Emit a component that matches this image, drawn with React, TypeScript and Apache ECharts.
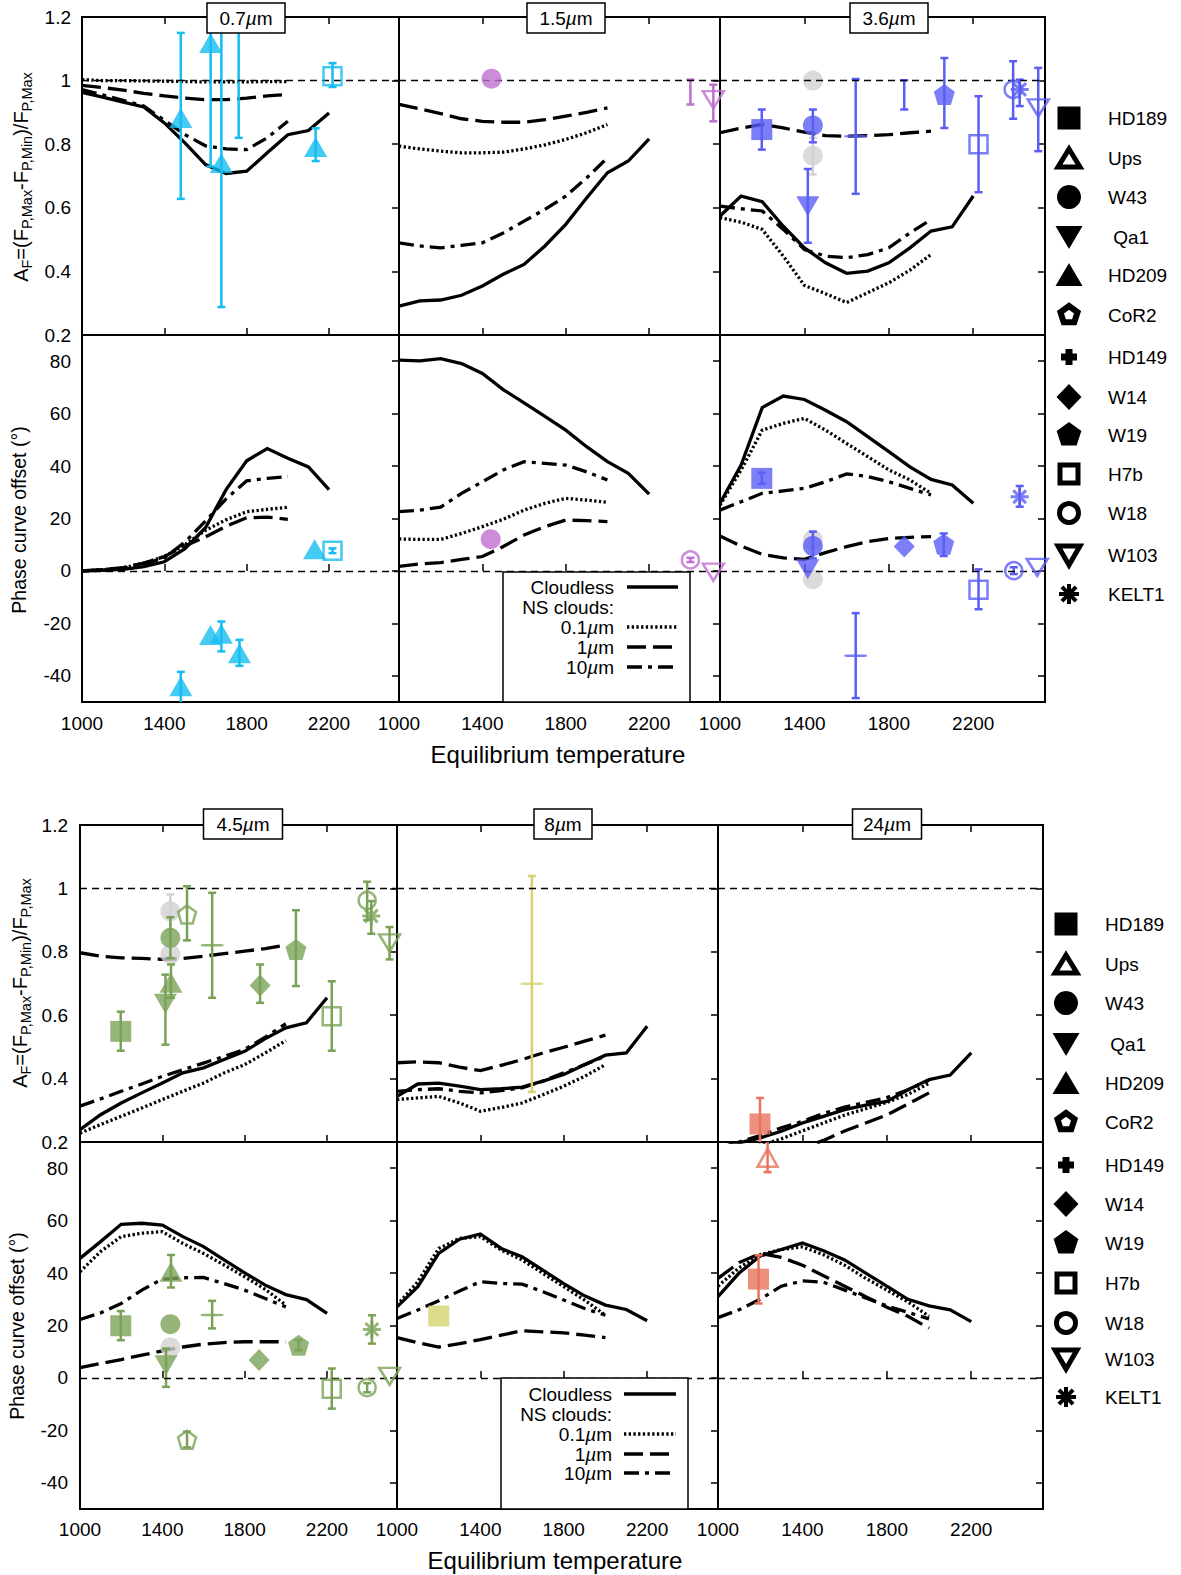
import React, { useEffect, useRef } from "react";
import * as echarts from "echarts";

const FONT = '"Liberation Sans", Arial, Helvetica, sans-serif';

// ---------- model temperature grids (K) ----------
const TEMP_CLOUDLESS = [1000, 1100, 1200, 1300, 1400, 1500, 1600, 1700, 1800, 1900, 2000, 2100, 2200];
const TEMP_CLOUDY = [1000, 1100, 1200, 1300, 1400, 1500, 1600, 1700, 1800, 1900, 2000];

// ---------- tick labels ----------
const TEMP_TICKS = [1000, 1400, 1800, 2200];
const TEMP_INNER_TICKS = [1400, 1800, 2200];
const AMP_TICKS = [0.2, 0.4, 0.6, 0.8, 1, 1.2];
const AMP_INNER_TICKS = [0.4, 0.6, 0.8, 1];
const OFF_TICKS = [-40, -20, 0, 20, 40, 60, 80];

// ---------- models: amplitude ----------
const amp07Cloudless = [0.963, 0.948, 0.932, 0.917, 0.867, 0.804, 0.736, 0.708, 0.715, 0.773, 0.83, 0.843, 0.898];
const amp07Cloud01 = [1.003, 1.0, 1.0, 0.999, 0.998, 0.997, 0.996, 0.996, 0.996, 0.997, 0.997];
const amp07Cloud1 = [0.985, 0.978, 0.97, 0.96, 0.952, 0.945, 0.94, 0.94, 0.945, 0.952, 0.956];
const amp07Cloud10 = [0.972, 0.955, 0.938, 0.92, 0.875, 0.83, 0.795, 0.785, 0.783, 0.82, 0.872];

const amp15Cloudless = [0.291, 0.307, 0.31, 0.325, 0.354, 0.391, 0.422, 0.48, 0.548, 0.631, 0.71, 0.747, 0.817];
const amp15Cloud01 = [0.794, 0.785, 0.778, 0.773, 0.773, 0.775, 0.785, 0.798, 0.815, 0.836, 0.862];
const amp15Cloud1 = [0.925, 0.911, 0.896, 0.88, 0.872, 0.869, 0.869, 0.877, 0.888, 0.9, 0.914];
const amp15Cloud10 = [0.49, 0.48, 0.474, 0.482, 0.49, 0.521, 0.558, 0.595, 0.637, 0.694, 0.757];

const amp36Cloudless = [0.574, 0.637, 0.619, 0.542, 0.474, 0.427, 0.394, 0.401, 0.427, 0.474, 0.527, 0.54, 0.637];
const amp36Cloud01 = [0.569, 0.555, 0.532, 0.448, 0.356, 0.33, 0.302, 0.333, 0.364, 0.404, 0.453];
const amp36Cloud1 = [0.836, 0.851, 0.862, 0.851, 0.838, 0.827, 0.825, 0.827, 0.83, 0.836, 0.841];
const amp36Cloud10 = [0.605, 0.597, 0.59, 0.532, 0.469, 0.448, 0.443, 0.453, 0.474, 0.521, 0.563];

const amp45Cloudless = [0.239, 0.286, 0.323, 0.355, 0.386, 0.418, 0.434, 0.46, 0.486, 0.526, 0.56, 0.576, 0.655];
const amp45Cloud01 = [0.228, 0.255, 0.281, 0.307, 0.334, 0.36, 0.386, 0.418, 0.444, 0.481, 0.52];
const amp45Cloud1 = [0.797, 0.786, 0.781, 0.779, 0.776, 0.779, 0.786, 0.794, 0.802, 0.81, 0.821];
const amp45Cloud10 = [0.313, 0.336, 0.36, 0.383, 0.407, 0.428, 0.449, 0.47, 0.492, 0.531, 0.573];

const amp8Cloudless = [0.344, 0.383, 0.386, 0.376, 0.365, 0.368, 0.373, 0.392, 0.413, 0.444, 0.474, 0.481, 0.565];
const amp8Cloud01 = [0.334, 0.339, 0.344, 0.323, 0.297, 0.309, 0.323, 0.349, 0.376, 0.407, 0.444];
const amp8Cloud1 = [0.45, 0.453, 0.45, 0.436, 0.425, 0.442, 0.46, 0.481, 0.499, 0.518, 0.537];
const amp8Cloud10 = [0.36, 0.365, 0.368, 0.36, 0.355, 0.362, 0.371, 0.392, 0.418, 0.444, 0.471];

const amp24Cloudless = [0.181, 0.197, 0.213, 0.234, 0.26, 0.281, 0.302, 0.316, 0.328, 0.365, 0.397, 0.411, 0.481];
const amp24Cloud01 = [0.15, 0.17, 0.19, 0.21, 0.235, 0.26, 0.285, 0.305, 0.325, 0.35, 0.385];
const amp24Cloud1 = [0.1, 0.12, 0.13, 0.15, 0.18, 0.205, 0.235, 0.26, 0.285, 0.32, 0.355];
const amp24Cloud10 = [0.18, 0.2, 0.22, 0.245, 0.265, 0.29, 0.31, 0.325, 0.34, 0.365, 0.395];

// ---------- models: phase offset (deg) ----------
const off07Cloudless = [0, 0.2, 0.6, 1.6, 3.5, 8.5, 16.5, 31, 42, 46.7, 43, 39.7, 31];
const off07Cloud01 = [0, 0.5, 1.2, 3, 5.5, 10, 15.5, 19.5, 22.6, 23.5, 24.3];
const off07Cloud1 = [0, 0.5, 1.3, 3, 5.5, 9.5, 13, 17, 20.3, 20.5, 19.7];
const off07Cloud10 = [0, 0.3, 1, 2.5, 5, 11, 19, 27.5, 34.4, 35.3, 36];

const off15Cloudless = [80.4, 80.1, 81, 79.1, 75.3, 69.2, 64.1, 59, 53.7, 47.4, 41.7, 37.2, 29.3];
const off15Cloud01 = [12.2, 12, 12, 14.3, 16.9, 19.7, 23.2, 25.8, 27.7, 27, 26.2];
const off15Cloud1 = [1.7, 2.7, 3.2, 4.4, 5.5, 9.3, 13.7, 16.9, 19.4, 19.2, 18.8];
const off15Cloud10 = [22.6, 23.2, 24.3, 29.6, 34, 38.5, 41.7, 41, 40.4, 37.8, 34.7];

const off36Cloudless = [25.8, 40.4, 62.3, 66.7, 65.4, 61.3, 56.9, 51.2, 45.5, 39.7, 34.9, 32.8, 25.8];
const off36Cloud01 = [25.1, 38.5, 53.7, 56.3, 58.2, 53.7, 48.6, 43.6, 38.5, 34.7, 29.6];
const off36Cloud1 = [13.3, 9.5, 6.3, 5, 4.4, 7, 9.3, 11.2, 12.4, 12.8, 13.1];
const off36Cloud10 = [23.2, 26.4, 29.6, 30.5, 31.5, 34, 37, 36, 34, 31.5, 29];

const off45Cloudless = [45.6, 52, 58.6, 59, 58.3, 53.9, 50.1, 45, 40.1, 35.4, 31.8, 29.9, 24.6];
const off45Cloud01 = [40.5, 48.2, 53.9, 55.2, 55.8, 51.3, 47.5, 43.1, 38.6, 33.8, 27.8];
const off45Cloud1 = [3.9, 5.5, 7, 8.7, 10.3, 11.8, 12.9, 13.5, 13.8, 13.8, 13.8];
const off45Cloud10 = [22.3, 24.8, 28.4, 33.5, 37.7, 38.2, 38.3, 36, 33.5, 30.3, 27.1];

const off8Cloudless = [27.1, 34.8, 47.5, 52.9, 54.9, 49.4, 46.2, 41.1, 36, 31.3, 27.8, 26.1, 21.8];
const off8Cloud01 = [27.8, 36.7, 49.4, 53.2, 53.9, 48.8, 45, 39.9, 34.8, 29.7, 23.9];
const off8Cloud1 = [15.4, 13.4, 11.8, 13.1, 14.6, 16.3, 18, 17.6, 17.2, 16.3, 15.4];
const off8Cloud10 = [22.7, 25.9, 29.4, 33.2, 36.7, 36, 35.8, 32.9, 29.7, 26.5, 23.9];

const off24Cloudless = [31, 40, 46.5, 49, 51.5, 48.5, 45, 40, 35, 30, 27.5, 26, 21.5];
const off24Cloud01 = [35, 42, 47, 49, 50, 47, 43, 38, 33.5, 29, 23.5];
const off24Cloud1 = [38, 44, 47.5, 46, 43, 39, 35, 31, 27, 23.5, 19];
const off24Cloud10 = [23, 26, 30, 35, 37, 36.5, 33.5, 30.5, 27.5, 25, 22.5];

// ---------- observations: [planet, Teq, value, errLow, errHigh] ----------
type Obs = [string, number, number | null, number | null, number | null];
type Gray = [number, number, number | null, number | null];

const OBS_AMP_07: Obs[] = [
  ["HD209", 1480, 0.882, 0.628, 1.15],
  ["HD209", 1625, 1.118, 0.73, 1.25],
  ["HD209", 1677, 0.741, 0.288, 1.25],
  ["none", 1761, null, 0.82, 1.25],
  ["HD209", 2135, 0.791, 0.747, 0.85],
  ["H7b", 2217, 1.014, 0.98, 1.055],
];
const OBS_OFF_07: Obs[] = [
  ["HD209", 1480, -44, -55, -38.5],
  ["HD209", 1624, -24.4, null, null],
  ["HD209", 1677, -24, -30.7, -19.3],
  ["HD209", 1765, -31.4, -36.2, -26.3],
  ["HD209", 2130, 8.3, null, null],
  ["H7b", 2217, 7.7, 6.8, 8.6],
];
const OBS_AMP_15: Obs[] = [
  ["W43", 1444, 1.006, null, null],
  ["none", 2398, null, 0.925, 1.003],
  ["W103", 2508, 0.94, 0.872, 0.987],
];
const OBS_OFF_15: Obs[] = [
  ["W43", 1440, 12.1, null, null],
  ["W18", 2398, 4.2, 3.4, 5.0],
  ["W103", 2508, -0.5, null, null],
];
const OBS_AMP_36: Obs[] = [
  ["HD189", 1198, 0.846, 0.783, 0.909],
  ["W43", 1440, 0.859, 0.806, 0.909],
  ["Qa1", 1416, 0.605, 0.49, 0.722],
  ["HD149", 1643, 0.825, 0.644, 1.005],
  ["none", 1873, null, 0.909, 1.001],
  ["W19", 2063, 0.956, 0.851, 1.071],
  ["H7b", 2225, 0.8, 0.649, 0.951],
  ["W18", 2389, 0.972, 0.88, 1.061],
  ["KELT1", 2420, 0.972, 0.92, 1.003],
  ["W103", 2508, 0.914, 0.778, 1.04],
];
const GRAY_AMP_36: Gray[] = [
  [1440, 1.0, null, null],
  [1440, 0.764, 0.705, 0.82],
];
const OBS_OFF_36: Obs[] = [
  ["HD189", 1198, 35.3, 33.3, 37.5],
  ["W43", 1440, 9.5, 4.8, 15],
  ["Qa1", 1416, 0.6, null, null],
  ["HD149", 1643, -32.4, -48.5, -16.1],
  ["W14", 1873, 9.3, null, null],
  ["W19", 2060, 10.2, 5.7, 14.3],
  ["H7b", 2225, -7.2, -14.6, 0.6],
  ["W18", 2392, 0.1, -1.2, 1.4],
  ["W103", 2503, 1.4, null, null],
  ["KELT1", 2420, 28.3, 24.5, 32.4],
];
const GRAY_OFF_36: Gray[] = [
  [1440, 11.8, null, null],
  [1440, -3.2, null, null],
];
const OBS_AMP_45: Obs[] = [
  ["HD189", 1198, 0.549, 0.488, 0.611],
  ["W43", 1439, 0.844, 0.78, 0.909],
  ["HD209", 1442, 0.702, 0.655, 0.76],
  ["Qa1", 1415, 0.636, 0.507, 0.728],
  ["CoR2", 1520, 0.918, 0.836, 1.007],
  ["HD149", 1642, 0.821, 0.655, 0.986],
  ["W14", 1875, 0.694, 0.639, 0.76],
  ["W19", 2049, 0.807, 0.692, 0.931],
  ["H7b", 2223, 0.597, 0.488, 0.707],
  ["W18", 2395, 0.962, 0.9, 1.021],
  ["KELT1", 2415, 0.913, 0.857, 0.96],
  ["W103", 2504, 0.828, 0.776, 0.878],
];
const GRAY_AMP_45: Gray[] = [
  [1439, 0.928, 0.87, 0.981],
  [1439, 0.792, null, null],
];
const OBS_OFF_45: Obs[] = [
  ["HD189", 1198, 19.9, 14.4, 25.5],
  ["W43", 1439, 20.5, null, null],
  ["HD209", 1442, 40.5, 34.5, 46.9],
  ["Qa1", 1418, 4.8, -3.4, 11.2],
  ["CoR2", 1520, -23.6, -26.5, -20.5],
  ["HD149", 1642, 24, 18.9, 29.4],
  ["W14", 1870, 6.8, null, null],
  ["W19", 2062, 12.5, 10.5, 14.5],
  ["H7b", 2223, -4.1, -11.7, 3.6],
  ["W18", 2395, -3.7, -5.5, -2],
  ["KELT1", 2418, 18.5, 13.1, 23.9],
  ["W103", 2504, 0.6, null, null],
];
const GRAY_OFF_45: Gray[] = [[1439, 11.6, null, null]];
const OBS_AMP_8: Obs[] = [["HD149", 1647, 0.699, 0.358, 1.039]];
const OBS_OFF_8: Obs[] = [["HD189", 1200, 23.6, null, null]];
const OBS_AMP_24: Obs[] = [["HD189", 1199, 0.257, 0.15, 0.339]];
const OBS_OFF_24: Obs[] = [
  ["HD189", 1192, 37.7, 28.4, 46.8],
  ["Ups", 1235, 84, 78.5, 95],
];

// ---------- legend names ----------
const PLANETS = ["HD189", "Ups", "W43", "Qa1", "HD209", "CoR2", "HD149", "W14", "W19", "H7b", "W18", "W103", "KELT1"];
const PLANET_LABELS = ["HD189", "Ups", "W43", " Qa1", "HD209", "CoR2", "HD149", "W14", "W19", "H7b", "W18", "W103", "KELT1"];
const WAVELENGTHS = ["0.7", "1.5", "3.6", "4.5", "8", "24"];
const PANEL_COLORS = ["#16BDF1", "#BF6FCF", "#5A5EF4", "#7AA257", "#D5D36E", "#E8735C"];
const GRAY = "#D2D2D2";

const AMP_MODELS = [
  [amp07Cloudless, amp07Cloud01, amp07Cloud1, amp07Cloud10],
  [amp15Cloudless, amp15Cloud01, amp15Cloud1, amp15Cloud10],
  [amp36Cloudless, amp36Cloud01, amp36Cloud1, amp36Cloud10],
  [amp45Cloudless, amp45Cloud01, amp45Cloud1, amp45Cloud10],
  [amp8Cloudless, amp8Cloud01, amp8Cloud1, amp8Cloud10],
  [amp24Cloudless, amp24Cloud01, amp24Cloud1, amp24Cloud10],
];
const OFF_MODELS = [
  [off07Cloudless, off07Cloud01, off07Cloud1, off07Cloud10],
  [off15Cloudless, off15Cloud01, off15Cloud1, off15Cloud10],
  [off36Cloudless, off36Cloud01, off36Cloud1, off36Cloud10],
  [off45Cloudless, off45Cloud01, off45Cloud1, off45Cloud10],
  [off8Cloudless, off8Cloud01, off8Cloud1, off8Cloud10],
  [off24Cloudless, off24Cloud01, off24Cloud1, off24Cloud10],
];
const AMP_OBS = [OBS_AMP_07, OBS_AMP_15, OBS_AMP_36, OBS_AMP_45, OBS_AMP_8, OBS_AMP_24];
const OFF_OBS = [OBS_OFF_07, OBS_OFF_15, OBS_OFF_36, OBS_OFF_45, OBS_OFF_8, OBS_OFF_24];
const AMP_GRAY: Gray[][] = [[], [], GRAY_AMP_36, GRAY_AMP_45, [], []];
const OFF_GRAY: Gray[][] = [[], [], GRAY_OFF_36, GRAY_OFF_45, [], []];

// ---------- layout ----------
const LAYOUT = [
  {
    rowTop: [17, 335], rowH: [318, 367], colLeft: [82, 399, 720], colW: [317, 321, 325],
    xLabelMargin: 12, yLabelMargin: 11, tagCenterX: [246, 566, 889], tagTop: 3,
    xTitle: [558, 754], ampTitle: [21, 177], offTitle: [19, 520],
    legendSymX: 1069, legendTextX: 1108,
    legendY: [118, 158, 197, 237, 275, 315, 357, 397, 435, 474, 513, 555, 594],
    keyBox: [503, 572, 187, 130], keyTextX: 614, keyRowY: [587, 607, 627, 647, 667], keySample: [627, 678],
  },
  {
    rowTop: [825, 1142], rowH: [317, 367], colLeft: [80, 397, 718], colW: [317, 321, 325],
    xLabelMargin: 11, yLabelMargin: 12, tagCenterX: [243, 563, 887], tagTop: 809,
    xTitle: [555, 1560], ampTitle: [20, 983], offTitle: [17, 1326],
    legendSymX: 1066, legendTextX: 1105,
    legendY: [924, 964, 1003, 1044, 1083, 1122, 1165, 1204, 1243, 1283, 1323, 1359, 1397],
    keyBox: [501, 1378, 187, 131], keyTextX: 612, keyRowY: [1394, 1414, 1434, 1454, 1473], keySample: [624, 676],
  },
];
const TAG_WIDTHS = [78, 78, 78, 79, 58, 69];

const MODEL_DASH: any[] = ["solid", [2.3, 2.4], [19, 7], [15, 6, 4, 6]];

const PENTAGON = "path://M50,0 L97.55,34.55 L79.39,95.45 L20.61,95.45 L2.45,34.55 Z";
const PLUS = "path://M0,50 L100,50 M50,0 L50,100";
const ASTERISK = "path://M50,0 L50,100 M0,50 L100,50 M14.6,14.6 L85.4,85.4 M85.4,14.6 L14.6,85.4";

function markerStyle(planet: string, color: string): any {
  const filled = { color, borderWidth: 0 };
  const open = { color: "rgba(255,255,255,0)", borderColor: color, borderWidth: 2.5 };
  switch (planet) {
    case "HD189": return { symbol: "rect", symbolSize: 21, itemStyle: filled };
    case "Ups": return { symbol: "triangle", symbolSize: [20, 18], itemStyle: open };
    case "W43": return { symbol: "circle", symbolSize: 20, itemStyle: filled };
    case "Qa1": return { symbol: "triangle", symbolSize: [23, 20], symbolRotate: 180, itemStyle: filled };
    case "HD209": return { symbol: "triangle", symbolSize: [23, 20], itemStyle: filled };
    case "CoR2": return { symbol: PENTAGON, symbolSize: [18, 18], itemStyle: open };
    case "HD149": return { symbol: PLUS, symbolSize: [18, 2], itemStyle: { ...open, borderWidth: 2.5 } };
    case "W14": return { symbol: "diamond", symbolSize: [21, 22], itemStyle: filled };
    case "W19": return { symbol: PENTAGON, symbolSize: [21, 21], itemStyle: filled };
    case "H7b": return { symbol: "rect", symbolSize: 18, itemStyle: open };
    case "W18": return { symbol: "circle", symbolSize: 17, itemStyle: open };
    case "W103": return { symbol: "triangle", symbolSize: [21, 17], symbolRotate: 180, itemStyle: open };
    case "KELT1": return { symbol: ASTERISK, symbolSize: 18, itemStyle: { ...open, borderWidth: 3 } };
    default: return { symbol: "none" };
  }
}

function pentagonPts(cx: number, cy: number, r: number) {
  return [0, 1, 2, 3, 4].map((k) => {
    const a = -Math.PI / 2 + (k * 2 * Math.PI) / 5;
    return [cx + r * Math.cos(a), cy + r * Math.sin(a)];
  });
}

function legendShape(name: string, cx: number, cy: number): any[] {
  const K = "#000";
  const openStyle = { fill: "#fff", stroke: K, lineWidth: 5 };
  const z = 100;
  switch (name) {
    case "HD189":
      return [{ type: "rect", z, shape: { x: cx - 11.5, y: cy - 11.5, width: 23, height: 23 }, style: { fill: K } }];
    case "Ups":
      return [{ type: "polygon", z, shape: { points: [[cx, cy - 9], [cx + 11, cy + 9], [cx - 11, cy + 9]] }, style: { ...openStyle, lineJoin: "miter" } }];
    case "W43":
      return [{ type: "circle", z, shape: { cx, cy, r: 12 }, style: { fill: K } }];
    case "Qa1":
      return [{ type: "polygon", z, shape: { points: [[cx - 13.5, cy - 11], [cx + 13.5, cy - 11], [cx, cy + 12]] }, style: { fill: K } }];
    case "HD209":
      return [{ type: "polygon", z, shape: { points: [[cx, cy - 12], [cx + 13.5, cy + 11], [cx - 13.5, cy + 11]] }, style: { fill: K } }];
    case "CoR2":
      return [{ type: "polygon", z, shape: { points: pentagonPts(cx, cy, 9) }, style: { ...openStyle, lineWidth: 6 } }];
    case "HD149":
      return [
        { type: "rect", z, shape: { x: cx - 8, y: cy - 3.5, width: 16, height: 7 }, style: { fill: K } },
        { type: "rect", z, shape: { x: cx - 3.5, y: cy - 8, width: 7, height: 16 }, style: { fill: K } },
      ];
    case "W14":
      return [{ type: "polygon", z, shape: { points: [[cx, cy - 13], [cx + 12.5, cy], [cx, cy + 13], [cx - 12.5, cy]] }, style: { fill: K } }];
    case "W19":
      return [{ type: "polygon", z, shape: { points: pentagonPts(cx, cy, 13) }, style: { fill: K } }];
    case "H7b":
      return [{ type: "rect", z, shape: { x: cx - 9, y: cy - 9, width: 18, height: 18 }, style: openStyle }];
    case "W18":
      return [{ type: "circle", z, shape: { cx, cy, r: 9.5 }, style: openStyle }];
    case "W103":
      return [{ type: "polygon", z, shape: { points: [[cx - 11, cy - 9], [cx + 11, cy - 9], [cx, cy + 10]] }, style: { ...openStyle, lineJoin: "miter" } }];
    case "KELT1": {
      const r = 10;
      const d = r * 0.7071;
      const ls = { stroke: K, lineWidth: 4 };
      return [
        { type: "line", z, shape: { x1: cx - r, y1: cy, x2: cx + r, y2: cy }, style: ls },
        { type: "line", z, shape: { x1: cx, y1: cy - r, x2: cx, y2: cy + r }, style: ls },
        { type: "line", z, shape: { x1: cx - d, y1: cy - d, x2: cx + d, y2: cy + d }, style: ls },
        { type: "line", z, shape: { x1: cx + d, y1: cy - d, x2: cx - d, y2: cy + d }, style: ls },
      ];
    }
    default:
      return [];
  }
}

function errorBarSeries(data: number[][], color: string, xi: number, yi: number, z: number): any {
  return {
    type: "custom",
    xAxisIndex: xi,
    yAxisIndex: yi,
    clip: true,
    silent: true,
    z,
    data,
    encode: { x: 0, y: [1, 2] },
    renderItem: (params: any, api: any) => {
      const x = api.value(0);
      const lo = api.coord([x, api.value(1)]);
      const hi = api.coord([x, api.value(2)]);
      const cap = 4;
      const st = { stroke: color, lineWidth: 2.5 };
      return {
        type: "group",
        children: [
          { type: "line", shape: { x1: lo[0], y1: lo[1], x2: hi[0], y2: hi[1] }, style: st },
          { type: "line", shape: { x1: lo[0] - cap, y1: lo[1], x2: lo[0] + cap, y2: lo[1] }, style: st },
          { type: "line", shape: { x1: hi[0] - cap, y1: hi[1], x2: hi[0] + cap, y2: hi[1] }, style: st },
        ],
      };
    },
  };
}

const TICK_LINE = { color: "#000", width: 1.5 };
const MU_RICH = {
  n: { fontSize: 19, fontFamily: FONT, fill: "#000" },
  i: { fontSize: 19, fontFamily: FONT, fontStyle: "italic", fill: "#000" },
};

function buildOption() {
  const grid: any[] = [];
  const xAxis: any[] = [];
  const yAxis: any[] = [];
  const series: any[] = [];
  const graphic: any[] = [];

  for (let p = 0; p < 6; p++) {
    const b = Math.floor(p / 3);
    const c = p % 3;
    const L = LAYOUT[b];
    const color = PANEL_COLORS[p];
    for (let r = 0; r < 2; r++) {
      const isAmp = r === 0;
      const g = grid.length;
      grid.push({
        left: L.colLeft[c], top: L.rowTop[r], width: L.colW[c], height: L.rowH[r],
        show: true, borderColor: "#000", borderWidth: 2, backgroundColor: "transparent",
      });
      const xi = xAxis.length;
      xAxis.push({
        type: "value", gridIndex: g, position: "bottom", min: 1000, max: 2540,
        axisLine: { show: false }, splitLine: { show: false },
        axisTick: { show: true, inside: true, length: 7, customValues: TEMP_INNER_TICKS, lineStyle: TICK_LINE },
        axisLabel: {
          show: !isAmp, customValues: TEMP_TICKS, margin: L.xLabelMargin, fontSize: 19,
          color: "#000", fontFamily: FONT, formatter: (v: number) => String(v),
        },
      });
      if (isAmp) {
        xAxis.push({
          type: "value", gridIndex: g, position: "top", min: 1000, max: 2540,
          axisLine: { show: false }, splitLine: { show: false }, axisLabel: { show: false },
          axisTick: { show: true, inside: true, length: 7, customValues: TEMP_INNER_TICKS, lineStyle: TICK_LINE },
        });
      }
      const yi = yAxis.length;
      yAxis.push({
        type: "value", gridIndex: g, position: "left",
        min: isAmp ? 0.2 : -50, max: isAmp ? 1.2 : 90,
        axisLine: { show: false }, splitLine: { show: false }, axisTick: { show: false },
        axisLabel: {
          show: c === 0, customValues: isAmp ? AMP_TICKS : OFF_TICKS, margin: L.yLabelMargin,
          fontSize: 19, color: "#000", fontFamily: FONT, showMinLabel: true, showMaxLabel: true,
          formatter: (v: number) => String(Math.round(v * 10) / 10),
        },
      });
      yAxis.push({
        type: "value", gridIndex: g, position: "right",
        min: isAmp ? 0.2 : -50, max: isAmp ? 1.2 : 90,
        axisLine: { show: false }, splitLine: { show: false }, axisLabel: { show: false },
        axisTick: { show: true, inside: true, length: 7, customValues: isAmp ? AMP_INNER_TICKS : OFF_TICKS, lineStyle: TICK_LINE },
      });

      // model curves
      const models = isAmp ? AMP_MODELS[p] : OFF_MODELS[p];
      models.forEach((vals, m) => {
        const temps = m === 0 ? TEMP_CLOUDLESS : TEMP_CLOUDY;
        const s: any = {
          type: "line", xAxisIndex: xi, yAxisIndex: yi, silent: true, z: 2, clip: true,
          symbol: "none", showSymbol: false,
          data: temps.map((t, i) => [t, vals[i]]),
          lineStyle: { color: "#000", width: 3.3, type: MODEL_DASH[m], cap: "butt", join: "miter" },
        };
        if (m === 0) {
          s.markLine = {
            silent: true, symbol: ["none", "none"], label: { show: false },
            lineStyle: { color: "#000", width: 1.3, type: [7, 5] },
            data: [{ yAxis: isAmp ? 1 : 0 }],
          };
        }
        series.push(s);
      });

      // gray alternative points
      const grays = isAmp ? AMP_GRAY[p] : OFF_GRAY[p];
      if (grays.length) {
        const bars = grays.filter((d) => d[2] != null).map((d) => [d[0], d[2] as number, d[3] as number]);
        if (bars.length) series.push(errorBarSeries(bars, GRAY, xi, yi, 3));
        series.push({
          type: "scatter", xAxisIndex: xi, yAxisIndex: yi, silent: true, z: 3,
          symbol: "circle", symbolSize: 20, itemStyle: { color: GRAY },
          data: grays.map((d) => [d[0], d[1]]),
        });
      }

      // observations
      const obs = isAmp ? AMP_OBS[p] : OFF_OBS[p];
      const bars = obs.filter((o) => o[3] != null).map((o) => [o[1], o[3] as number, o[4] as number]);
      if (bars.length) series.push(errorBarSeries(bars, color, xi, yi, 4));
      series.push({
        type: "scatter", xAxisIndex: xi, yAxisIndex: yi, silent: true, z: 5,
        data: obs
          .filter((o) => o[0] !== "none" && o[2] != null)
          .map((o) => ({ value: [o[1], o[2]], ...markerStyle(o[0], color) })),
      });
    }

    // wavelength tag box
    const w = TAG_WIDTHS[p];
    const cx = L.tagCenterX[c];
    graphic.push({
      type: "rect", z: 100,
      shape: { x: cx - w / 2, y: L.tagTop, width: w, height: 30 },
      style: { fill: "#fff", stroke: "#000", lineWidth: 1.5 },
    });
    graphic.push({
      type: "text", z: 101, x: cx, y: L.tagTop + 15,
      style: { text: `{n|${WAVELENGTHS[p]}}{i|µ}{n|m}`, rich: MU_RICH, align: "center", verticalAlign: "middle" },
    });
  }

  // per block decorations
  LAYOUT.forEach((L) => {
    graphic.push({
      type: "text", z: 100, x: L.xTitle[0], y: L.xTitle[1],
      style: { text: "Equilibrium temperature", fontSize: 24, fontFamily: FONT, fill: "#000", align: "center", verticalAlign: "middle" },
    });
    graphic.push({
      type: "text", z: 100, x: L.ampTitle[0], y: L.ampTitle[1], rotation: Math.PI / 2,
      style: {
        text: "{n|A}{s|F}{n|=(F}{s|P,Max}{n|-F}{s|P,Min}{n|)/F}{s|P,Max}",
        rich: {
          n: { fontSize: 20, fontFamily: FONT, fill: "#000", lineHeight: 26, verticalAlign: "middle" },
          s: { fontSize: 14.5, fontFamily: FONT, fill: "#000", lineHeight: 14, verticalAlign: "bottom" },
        },
        align: "center", verticalAlign: "middle",
      },
    });
    graphic.push({
      type: "text", z: 100, x: L.offTitle[0], y: L.offTitle[1], rotation: Math.PI / 2,
      style: { text: "Phase curve offset (°)", fontSize: 19.5, fontFamily: FONT, fill: "#000", align: "center", verticalAlign: "middle" },
    });

    // planet legend
    PLANETS.forEach((name, i) => {
      legendShape(name, L.legendSymX, L.legendY[i]).forEach((el) => graphic.push(el));
      graphic.push({
        type: "text", z: 100, x: L.legendTextX, y: L.legendY[i],
        style: { text: PLANET_LABELS[i], fontSize: 19, fontFamily: FONT, fill: "#000", align: "left", verticalAlign: "middle" },
      });
    });

    // model key box
    const [bx, by, bw, bh] = L.keyBox;
    graphic.push({
      type: "rect", z: 100, shape: { x: bx, y: by, width: bw, height: bh },
      style: { fill: "#fff", stroke: "#000", lineWidth: 1.5 },
    });
    const keyTexts = ["{n|Cloudless}", "{n|NS clouds:}", "{n|0.1}{i|µ}{n|m}", "{n|1}{i|µ}{n|m}", "{n|10}{i|µ}{n|m}"];
    const keyDash: any[] = [null, undefined, [2.3, 2.4], [19, 7], [15, 6, 4, 6]];
    keyTexts.forEach((t, i) => {
      graphic.push({
        type: "text", z: 101, x: L.keyTextX, y: L.keyRowY[i],
        style: { text: t, rich: MU_RICH, align: "right", verticalAlign: "middle" },
      });
      if (i !== 1) {
        graphic.push({
          type: "line", z: 101,
          shape: { x1: L.keySample[0], y1: L.keyRowY[i], x2: L.keySample[1], y2: L.keyRowY[i] },
          style: { stroke: "#000", lineWidth: 3.3, lineDash: keyDash[i] || null, lineCap: "butt" },
        });
      }
    });
  });

  return {
    animation: false,
    backgroundColor: "#fff",
    textStyle: { fontFamily: FONT },
    grid,
    xAxis,
    yAxis,
    series,
    graphic: { elements: graphic },
  };
}

export default function App() {
  const ref = useRef<HTMLDivElement>(null);
  useEffect(() => {
    if (!ref.current) return;
    const chart = echarts.init(ref.current, null, { renderer: "svg" });
    chart.setOption(buildOption() as any);
    return () => chart.dispose();
  }, []);
  return (
    <div
      ref={ref}
      style={{ position: "absolute", left: 0, top: 0, width: 1181, height: 1575, background: "#fff" }}
    />
  );
}
